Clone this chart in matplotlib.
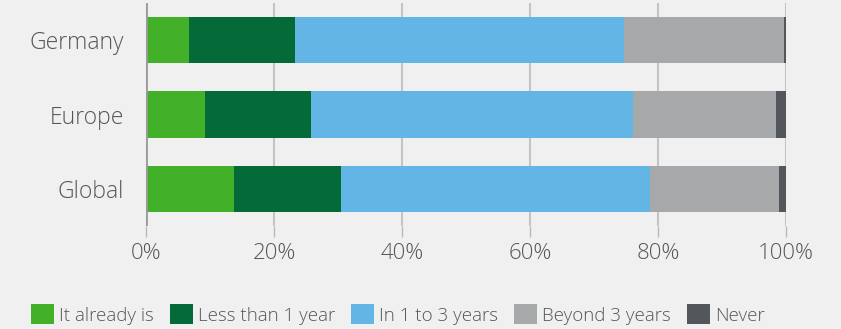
import numpy as np
import matplotlib
matplotlib.use('Agg')
import matplotlib.pyplot as plt

# Share of respondents (percent)
regions = ['Germany', 'Europe', 'Global']
already = [6.7, 9.2, 13.75]
less_1y = [16.6, 16.6, 16.75]
in_1_3y = [51.4, 50.3, 48.25]
beyond_3y = [25.0, 22.3, 20.15]
never = [0.3, 1.6, 1.1]

series_names = ['It already is', 'Less than 1 year', 'In 1 to 3 years',
                'Beyond 3 years', 'Never']
colors = ['#43b02a', '#046a38', '#62b5e5', '#a7a8aa', '#53565a']
ticks = [0, 20, 40, 60, 80, 100]

bg = '#f0f0f0'
text_col = '#53565a'
plt.rcParams['font.family'] = ['Open Sans', 'DejaVu Sans']

fig = plt.figure(figsize=(8.41, 3.29), dpi=100, facecolor=bg)
ax = fig.add_axes([146 / 841, 1 - 226 / 329, 640 / 841, 223 / 329])
ax.set_facecolor(bg)

ypos = np.arange(len(regions))
left = np.zeros(len(regions))
for name, vals, col in zip(series_names,
                           [already, less_1y, in_1_3y, beyond_3y, never],
                           colors):
    ax.barh(ypos, vals, left=left, height=0.62, color=col, label=name,
            zorder=3)
    left += np.array(vals)

ax.set_xlim(0, 100)
ax.set_ylim(2.5, -0.5)
ax.set_yticks(ypos)
ax.set_yticklabels(regions, fontsize=16.5, color=text_col, fontweight='light')
ax.set_xticks(ticks)
ax.set_xticklabels([str(t) + '%' for t in ticks], fontsize=16,
                   color=text_col, fontweight='light')
ax.tick_params(axis='y', length=0, pad=16)
ax.tick_params(axis='x', length=8, width=1, color='#bbbbbb', pad=4)

for t in ticks[1:]:
    ax.axvline(t, color='#c4c4c4', lw=1.5, zorder=1)
ax.axvline(0, color='#9a9a9a', lw=2, zorder=4)

for s in ax.spines.values():
    s.set_visible(False)

fig.legend(loc='center', bbox_to_anchor=(0.473, 0.044), ncol=5,
           frameon=False, handlelength=1.25, handleheight=1.25,
           handletextpad=0.25, columnspacing=0.85, borderaxespad=0,
           prop={'weight': 'light', 'size': 13.5}, labelcolor=text_col)

fig.savefig('out.png', dpi=100, facecolor=bg)
